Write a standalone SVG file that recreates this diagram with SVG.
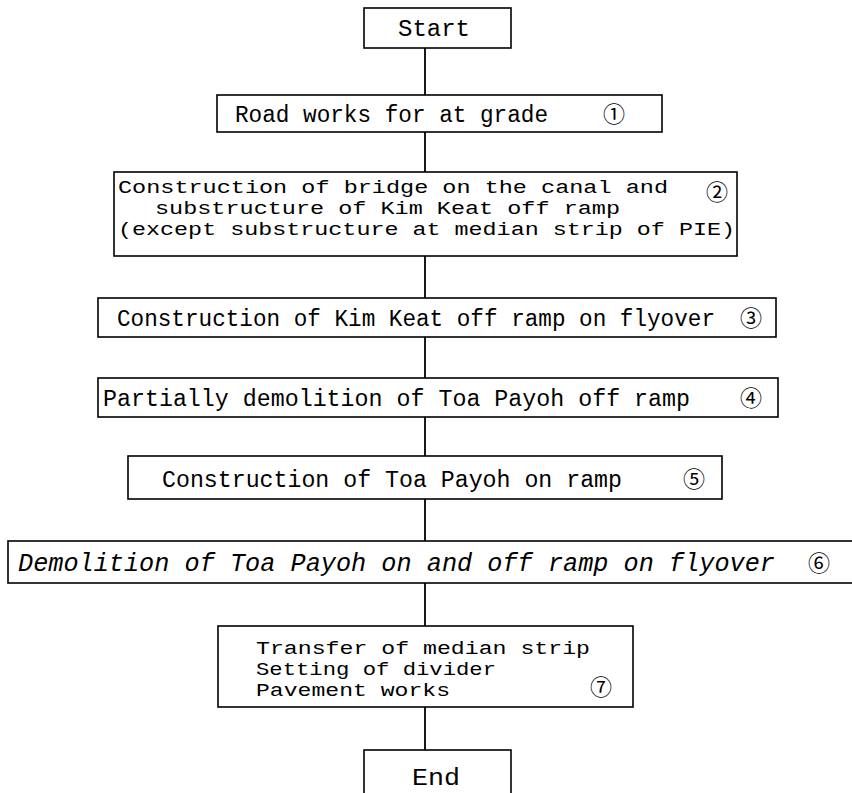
<svg xmlns="http://www.w3.org/2000/svg" width="852" height="793" viewBox="0 0 852 793">
<style>
.box{fill:#fff;stroke:#000;stroke-width:1.6}
.t{font-family:"Liberation Mono","DejaVu Sans Mono",monospace;font-size:23px;fill:#000}
.m{font-size:17.5px}
.i{font-style:italic;font-size:25px}
.c{font-family:"Noto Sans CJK JP","DejaVu Sans",sans-serif;font-size:22px;fill:#000}
.conn line{stroke:#000;stroke-width:1.8}
</style>
<rect width="852" height="793" fill="#fff"/>
<g class="conn">
<line x1="425" y1="48" x2="425" y2="95"/>
<line x1="425" y1="132" x2="425" y2="172"/>
<line x1="425" y1="256" x2="425" y2="298"/>
<line x1="425" y1="337" x2="425" y2="378"/>
<line x1="425" y1="417" x2="425" y2="456"/>
<line x1="425" y1="499" x2="425" y2="541"/>
<line x1="425" y1="583" x2="425" y2="626"/>
<line x1="425" y1="707" x2="425" y2="750"/>
</g>
<g id="start">
<rect class="box" x="364" y="8" width="147" height="40"/>
<text class="t" x="398" y="36" font-size="24" textLength="72" lengthAdjust="spacingAndGlyphs">Start</text>
</g>
<g id="step1">
<rect class="box" x="217" y="95" width="445" height="37"/>
<text class="t" x="235" y="122" textLength="313" lengthAdjust="spacingAndGlyphs">Road works for at grade</text>
<text class="c" x="614" y="122" text-anchor="middle">①</text>
</g>
<g id="step2">
<rect class="box" x="114" y="172" width="623" height="84"/>
<text class="t m"><tspan x="118" y="193" textLength="550" lengthAdjust="spacingAndGlyphs">Construction of bridge on the canal and</tspan><tspan x="155" y="214" textLength="465" lengthAdjust="spacingAndGlyphs">substructure of Kim Keat off ramp</tspan><tspan x="118" y="235" textLength="617" lengthAdjust="spacingAndGlyphs">(except substructure at median strip of PIE)</tspan></text>
<text class="c" x="717" y="200" text-anchor="middle">②</text>
</g>
<g id="step3">
<rect class="box" x="98" y="298" width="678" height="39"/>
<text class="t" x="117" y="326" font-size="22.6" textLength="598" lengthAdjust="spacingAndGlyphs">Construction of Kim Keat off ramp on flyover</text>
<text class="c" x="751" y="326" text-anchor="middle">③</text>
</g>
<g id="step4">
<rect class="box" x="98" y="378" width="680" height="39"/>
<text class="t" x="103" y="406" textLength="587" lengthAdjust="spacingAndGlyphs">Partially demolition of Toa Payoh off ramp</text>
<text class="c" x="751" y="406" text-anchor="middle">④</text>
</g>
<g id="step5">
<rect class="box" x="128" y="456" width="594" height="43"/>
<text class="t" x="162" y="487" textLength="460" lengthAdjust="spacingAndGlyphs">Construction of Toa Payoh on ramp</text>
<text class="c" x="694" y="487" text-anchor="middle">⑤</text>
</g>
<g id="step6">
<rect class="box" x="8" y="541" width="860" height="42"/>
<text class="t i" x="18" y="571" textLength="757" lengthAdjust="spacingAndGlyphs">Demolition of Toa Payoh on and off ramp on flyover</text>
<text class="c" x="819" y="571" text-anchor="middle">⑥</text>
</g>
<g id="step7">
<rect class="box" x="218" y="626" width="415" height="81"/>
<text class="t m"><tspan x="256" y="654" textLength="334" lengthAdjust="spacingAndGlyphs">Transfer of median strip</tspan><tspan x="256" y="675" textLength="240" lengthAdjust="spacingAndGlyphs">Setting of divider</tspan><tspan x="256" y="696" textLength="194" lengthAdjust="spacingAndGlyphs">Pavement works</tspan></text>
<text class="c" x="601" y="695" text-anchor="middle">⑦</text>
</g>
<g id="end">
<rect class="box" x="364" y="750" width="147" height="60"/>
<text class="t" x="412" y="785" font-size="25" textLength="48" lengthAdjust="spacingAndGlyphs">End</text>
</g>
</svg>
